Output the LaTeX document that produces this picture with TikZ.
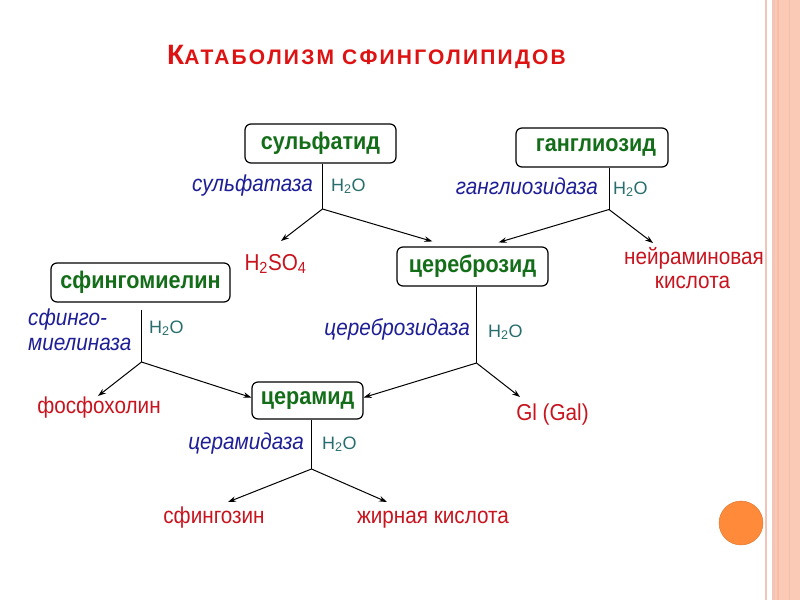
\documentclass[tikz,border=0pt]{standalone}
\usepackage{fontspec}
\setmainfont{Liberation Sans}
\newfontfamily\titlefont[LetterSpace=10.5]{Liberation Sans}
\newfontfamily\narrowsans[FakeStretch=0.9]{Liberation Sans}
\usetikzlibrary{arrows.meta}
\definecolor{cgreen}{RGB}{20,110,25}
\definecolor{cblue}{RGB}{30,30,150}
\definecolor{cteal}{RGB}{40,110,110}
\definecolor{cred}{RGB}{200,20,30}
\definecolor{ctitle}{RGB}{222,18,18}
\definecolor{cband}{RGB}{251,202,182}
\definecolor{cbandd}{RGB}{246,188,166}
\definecolor{cline}{RGB}{242,196,184}
\definecolor{corange}{RGB}{255,138,58}
\begin{document}
\begin{tikzpicture}[x=1pt,y=-1pt,
  box/.style={draw=black, line width=1.2pt, rounded corners=6pt, fill=white, inner sep=0pt,
    font=\narrowsans\fontsize{24}{24}\selectfont\bfseries, text=cgreen},
  enz/.style={inner sep=0pt, font=\narrowsans\fontsize{23}{23}\selectfont\itshape, text=cblue},
  wat/.style={inner sep=0pt, font=\fontsize{18}{18}\selectfont, text=cteal, anchor=base west},
  prod/.style={inner sep=0pt, font=\narrowsans\fontsize{23}{23}\selectfont, text=cred, anchor=base},
  arr/.style={-{Stealth[length=8pt,width=5.5pt]}, line width=1pt},
  stemline/.style={line width=1pt}]
\useasboundingbox (0,0) rectangle (800,600);
\fill[white] (0,0) rectangle (800,600);
% right border
\fill[cline] (765,0) rectangle (767,600);
\fill[cline] (772,0) rectangle (774.5,600);
\fill[cband] (775,0) rectangle (800,600);
\fill[cbandd] (777,0) rectangle (779,600);
\fill[cbandd] (789,0) rectangle (790,600);
\node[circle, fill=corange, draw=corange!85!black, line width=0.4pt, minimum size=44pt, inner sep=0pt] (dot) at (741,523) {};
% title
\node[anchor=base west, inner sep=0pt, text=ctitle, font=\titlefont\bfseries] (title) at (167,64)
  {{\fontsize{28}{28}\selectfont К}{\fontsize{21}{21}\selectfont АТАБОЛИЗМ СФИНГОЛИПИДОВ}};
% boxes
\node[box, minimum width=151pt, minimum height=39pt] (sulf) at (320.5,143.5) {сульфатид};
\node[box, minimum width=152pt, minimum height=39pt] (gang) at (592,147.5) {\hspace*{8pt}ганглиозид};
\node[box, minimum width=151pt, minimum height=39pt] (cer) at (472.5,266.5) {цереброзид};
\node[box, minimum width=179pt, minimum height=39pt] (sfm) at (140.5,282.5) {сфингомиелин};
\node[box, minimum width=111pt, minimum height=37pt] (ceram) at (307.5,400.5) {церамид};
% products
\node[prod] (h2so4) at (275.5,270) {H\textsubscript{2}SO\textsubscript{4}};
\node[prod] (neur) at (694,264) {нейраминовая};
\node[prod] (neurb) at (692.5,288) {кислота};
\node[prod] (gi) at (552.5,420) {Gl (Gal)};
\node[prod] (fosf) at (99,413) {фосфохолин};
\node[prod] (sfing) at (214,523) {сфингозин};
\node[prod] (fatty) at (433,523) {жирная кислота};
% junctions
\coordinate (j1) at (322.5,209);
\coordinate (j2) at (609,209.5);
\coordinate (j3) at (476.5,363);
\coordinate (j4) at (141.5,362);
\coordinate (j5) at (311.5,469);
% enzymes and water
\node[enz, anchor=base east] (e1) at (313,191) {сульфатаза};
\node[wat] (w1) at (331,191) {H\textsubscript{2}O};
\node[enz, anchor=base east] (e2) at (598,194) {ганглиозидаза};
\node[wat] (w2) at (613,194) {H\textsubscript{2}O};
\node[enz, anchor=base east] (e3) at (470,335) {цереброзидаза};
\node[wat] (w3) at (488,337) {H\textsubscript{2}O};
\node[enz, anchor=base west] (e4) at (28,325) {сфинго-};
\node[enz, anchor=base west] (e4b) at (28,350) {миелиназа};
\node[wat] (w4) at (149,333) {H\textsubscript{2}O};
\node[enz, anchor=base east] (e5) at (304,449) {церамидаза};
\node[wat] (w5) at (322,449) {H\textsubscript{2}O};
% stems
\draw[stemline] (j1 |- sulf.south) -- (j1);
\draw[stemline] (j2 |- gang.south) -- (j2);
\draw[stemline] (j3 |- cer.south) -- (j3);
\draw[stemline] ([yshift=-7pt]j4 |- sfm.south) -- (j4);
\draw[stemline] (j5 |- ceram.south) -- (j5);
% arrows
\draw[arr] (j1) -- ([xshift=5.5pt,yshift=29pt]h2so4.base);
\draw[arr] (j1) -- ([xshift=36pt,yshift=5pt]cer.north west);
\draw[arr] (j2) -- ([xshift=-50pt,yshift=4pt]cer.north east);
\draw[arr] (j2) -- ([xshift=-41pt,yshift=21pt]neur.base);
\draw[arr] (j3) -- ([yshift=3pt]ceram.east);
\draw[arr] (j3) -- ([xshift=-32.5pt,yshift=23pt]gi.base);
\draw[arr] (j4) -- ([xshift=-1pt,yshift=17pt]fosf.base);
\draw[arr] (j4) -- ([yshift=3pt]ceram.west);
\draw[arr] (j5) -- ([xshift=14pt,yshift=21pt]sfing.base);
\draw[arr] (j5) -- ([xshift=-46pt,yshift=21pt]fatty.base);
\end{tikzpicture}
\end{document}
